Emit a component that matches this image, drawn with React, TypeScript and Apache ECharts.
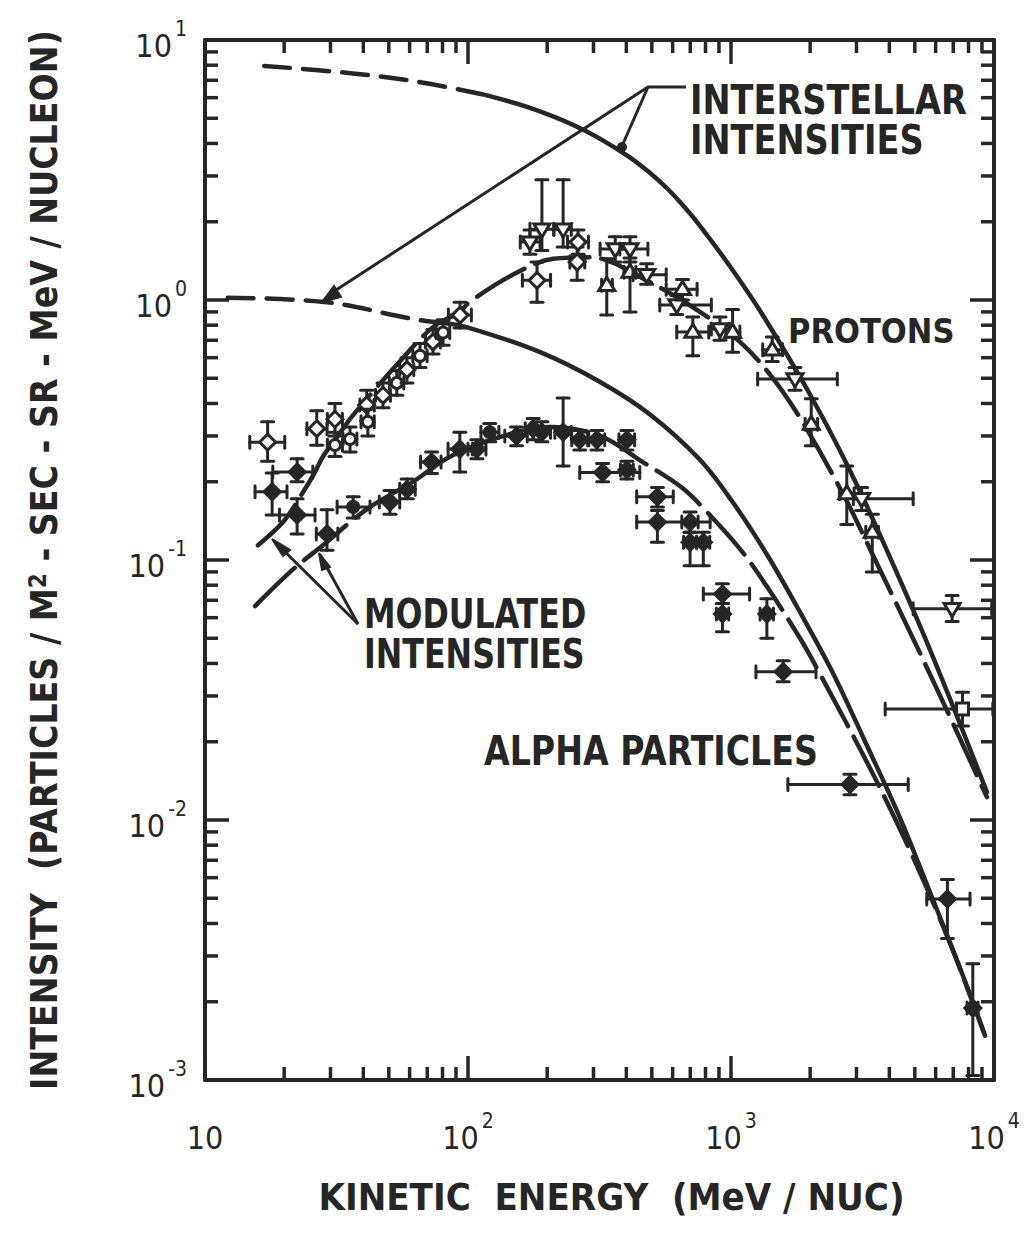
import React, { useEffect, useRef } from 'react';
import * as echarts from 'echarts';

const INK = '#262626';
const FONT = '"DejaVu Sans Condensed", "DejaVu Sans", sans-serif';

// axis ticks
const X_MINOR = [20, 30, 40, 50, 60, 70, 80, 90, 200, 300, 400, 500, 600, 700, 800, 900, 2000, 3000, 4000, 5000, 6000, 7000, 8000, 9000];
const Y_MINOR = [0.002, 0.003, 0.004, 0.005, 0.006, 0.007, 0.008, 0.009, 0.02, 0.03, 0.04, 0.05, 0.06, 0.07, 0.08, 0.09, 0.2, 0.3, 0.4, 0.5, 0.6, 0.7, 0.8, 0.9, 2, 3, 4, 5, 6, 7, 8, 9];

// interstellar proton spectrum [E MeV/nuc, intensity]
const IS_PROTON_DASHED: [number, number][] = [[16.8, 7.95], [35, 7.47], [64, 6.92], [117, 6.14]];
const IS_PROTON_SOLID: [number, number][] = [[117, 6.14], [180, 5.4], [278, 4.49], [402, 3.6], [500, 3.04], [571, 2.69], [650, 2.34], [762, 1.93], [1000, 1.33], [1325, 0.87], [2000, 0.432], [3000, 0.196], [5000, 0.062], [7000, 0.0272], [9400, 0.0128]];

// interstellar alpha spectrum
const IS_ALPHA_DASHED: [number, number][] = [[12.2, 1.02], [29.1, 0.98], [61.8, 0.845], [78, 0.82]];
const IS_ALPHA_SOLID: [number, number][] = [[78, 0.82], [98.6, 0.787], [188, 0.63], [318, 0.484], [492, 0.363], [762, 0.243], [1019, 0.166], [1370, 0.105], [1830, 0.063], [2443, 0.0367], [3290, 0.0193], [4390, 0.0102], [5720, 0.00525], [7430, 0.00269], [9250, 0.00148]];

// modulated spectra
const MOD_PROTON: [number, number][] = [[15.9, 0.114], [19.8, 0.14], [23, 0.175], [26, 0.215], [28.1, 0.25], [32, 0.3], [36.5, 0.36], [55, 0.58], [74, 0.79], [93, 0.9], [101, 0.98], [148, 1.25], [211, 1.44], [291, 1.46], [492, 1.17], [762, 0.9], [1081, 0.69], [1405, 0.518], [1830, 0.352], [2670, 0.179], [3470, 0.104], [5000, 0.0483], [6620, 0.0264], [9400, 0.01225]];
const MOD_ALPHA: [number, number][] = [[15.5, 0.0665], [21.6, 0.092], [28.1, 0.114], [41.3, 0.157], [61.8, 0.2], [85, 0.249], [132, 0.297], [205, 0.325], [318, 0.3], [462, 0.238], [650, 0.19], [810, 0.153], [1100, 0.108], [1370, 0.079], [1830, 0.05], [2120, 0.0384], [3470, 0.015], [4920, 0.0072], [6800, 0.00336], [9250, 0.00148]];

// measured points: [E, I, Elow, Ehigh, Ilow, Ihigh, symbol]
type Pt = [number, number, number, number, number, number, string];
const PROTON_POINTS: Pt[] = [
  [17.3, 0.284, 14.8, 20.1, 0.24, 0.34, 'd'],
  [26.6, 0.32, 24.4, 29.1, 0.276, 0.375, 'd'],
  [31.2, 0.348, 29.2, 33.3, 0.3, 0.4, 'd'],
  [31.2, 0.277, 29.2, 33.3, 0.25, 0.31, 'o'],
  [35.6, 0.292, 33.5, 37.8, 0.26, 0.325, 'o'],
  [41.2, 0.395, 38.8, 44.0, 0.345, 0.45, 'd'],
  [41.6, 0.34, 39.2, 44.0, 0.3, 0.38, 'o'],
  [47.5, 0.43, 44.5, 50.7, 0.385, 0.48, 'd'],
  [53.6, 0.48, 50.2, 57.0, 0.43, 0.535, 'o'],
  [58.6, 0.54, 55.0, 62.2, 0.48, 0.6, 'd'],
  [65.7, 0.61, 61.7, 69.9, 0.55, 0.68, 'o'],
  [73.6, 0.69, 68.9, 78.5, 0.62, 0.77, 'd'],
  [80.4, 0.75, 75.6, 85.2, 0.67, 0.84, 'o'],
  [93.3, 0.875, 84.2, 103, 0.78, 0.98, 'd'],
  [172, 1.67, 158, 188, 1.5, 1.86, 'v'],
  [183, 1.19, 161, 206, 0.98, 1.4, 'd'],
  [191, 1.87, 172, 212, 1.55, 2.9, 'v'],
  [230, 1.87, 212, 247, 1.6, 2.9, 'v'],
  [260, 1.4, 244, 278, 1.19, 1.6, 'd'],
  [262, 1.67, 239, 287, 1.5, 1.86, 'd'],
  [337, 1.14, 322, 354, 0.875, 1.44, 't'],
  [363, 1.57, 318, 412, 1.4, 1.75, 'v'],
  [413, 1.57, 378, 483, 1.4, 1.75, 'v'],
  [413, 1.28, 392, 435, 0.9, 1.45, 't'],
  [478, 1.25, 424, 567, 1.15, 1.38, 'v'],
  [622, 0.957, 536, 842, 0.88, 1.04, 'v'],
  [654, 1.1, 567, 743, 1.0, 1.2, 't'],
  [716, 0.753, 622, 823, 0.61, 0.86, 't'],
  [908, 0.773, 842, 986, 0.7, 0.86, 'v'],
  [1014, 0.753, 957, 1081, 0.63, 0.92, 't'],
  [1435, 0.643, 1320, 1570, 0.58, 0.72, 't'],
  [1751, 0.497, 1263, 2536, 0.45, 0.55, 'v'],
  [2019, 0.333, 1914, 2134, 0.275, 0.417, 't'],
  [2756, 0.18, 2584, 2938, 0.137, 0.23, 't'],
  [3139, 0.172, 2919, 4928, 0.155, 0.19, 'v'],
  [3445, 0.128, 3254, 3637, 0.09, 0.15, 't'],
  [6929, 0.065, 4928, 9800, 0.058, 0.073, 'v'],
  [7589, 0.0267, 3857, 9900, 0.023, 0.031, 's'],
];
const ALPHA_POINTS: Pt[] = [
  [18.0, 0.183, 15.5, 20.5, 0.149, 0.216, 'd'],
  [22.4, 0.218, 18.1, 25.7, 0.2, 0.245, 'd'],
  [22.4, 0.149, 19.2, 26.2, 0.126, 0.172, 'd'],
  [29.1, 0.126, 26.5, 32.0, 0.109, 0.156, 'd'],
  [36.6, 0.16, 31.8, 42.4, 0.145, 0.175, 'o'],
  [50.5, 0.167, 46, 55, 0.15, 0.185, 'd'],
  [58.7, 0.187, 55, 63, 0.172, 0.205, 'd'],
  [72.7, 0.238, 66, 79, 0.215, 0.26, 'd'],
  [93.1, 0.267, 84, 104, 0.218, 0.31, 'd'],
  [108, 0.267, 100, 117, 0.245, 0.29, 'd'],
  [121, 0.31, 112, 131, 0.285, 0.335, 'o'],
  [153, 0.3, 138, 168, 0.275, 0.325, 'd'],
  [177, 0.32, 165, 190, 0.29, 0.35, 'd'],
  [191, 0.31, 177, 206, 0.285, 0.34, 'd'],
  [230, 0.31, 214, 247, 0.23, 0.42, 'd'],
  [266, 0.29, 248, 285, 0.265, 0.315, 'd'],
  [309, 0.29, 288, 331, 0.265, 0.315, 'd'],
  [402, 0.29, 375, 430, 0.265, 0.315, 'd'],
  [325, 0.217, 266, 450, 0.2, 0.235, 'd'],
  [402, 0.222, 380, 425, 0.205, 0.24, 'd'],
  [525, 0.175, 438, 603, 0.16, 0.19, 'd'],
  [525, 0.14, 438, 833, 0.117, 0.155, 'd'],
  [699, 0.14, 650, 750, 0.128, 0.153, 'd'],
  [699, 0.117, 660, 740, 0.095, 0.128, 'd'],
  [785, 0.117, 740, 830, 0.095, 0.128, 'd'],
  [928, 0.074, 785, 1177, 0.068, 0.081, 'd'],
  [928, 0.062, 880, 980, 0.053, 0.068, 'd'],
  [1369, 0.062, 1290, 1450, 0.05, 0.071, 'd'],
  [1579, 0.0372, 1244, 2105, 0.034, 0.041, 'd'],
  [2833, 0.0137, 1646, 4718, 0.0125, 0.015, 'd'],
  [6651, 0.00497, 5551, 8106, 0.0035, 0.0059, 'd'],
  [8307, 0.00189, 7900, 8700, 0.00104, 0.0028, 'd'],
];

function expLabel(v: number, plainTen: boolean) {
  const e = Math.round(Math.log10(v));
  if (plainTen && e === 1) return '{b|10}';
  return `{b|10}{s|${e}}`;
}

const labelRich = {
  b: { fontSize: 32, fontFamily: FONT, color: INK, lineHeight: 44, verticalAlign: 'bottom' },
  s: { fontSize: 21, fontFamily: FONT, color: INK, lineHeight: 16, verticalAlign: 'top', padding: [0, 0, 0, 3] },
};

function pointSeries(points: Pt[], filled: boolean) {
  return {
    type: 'custom',
    coordinateSystem: 'cartesian2d',
    clip: false,
    z: 5,
    data: points.map((p) => [p[0], p[1]]),
    renderItem: (params: any, api: any) => {
      const p = points[params.dataIndex];
      const c = api.coord([p[0], p[1]]);
      const xl = api.coord([p[2], p[1]])[0];
      const xh = api.coord([p[3], p[1]])[0];
      const yl = api.coord([p[0], p[4]])[1];
      const yh = api.coord([p[0], p[5]])[1];
      const cap = 6;
      const ls = { stroke: INK, lineWidth: 3, lineCap: 'round' };
      const x = c[0];
      const y = c[1];
      const children: any[] = [
        { type: 'line', shape: { x1: xl, y1: y, x2: xh, y2: y }, style: ls },
        { type: 'line', shape: { x1: x, y1: yl, x2: x, y2: yh }, style: ls },
        { type: 'line', shape: { x1: xl, y1: y - cap, x2: xl, y2: y + cap }, style: ls },
        { type: 'line', shape: { x1: xh, y1: y - cap, x2: xh, y2: y + cap }, style: ls },
        { type: 'line', shape: { x1: x - cap, y1: yl, x2: x + cap, y2: yl }, style: ls },
        { type: 'line', shape: { x1: x - cap, y1: yh, x2: x + cap, y2: yh }, style: ls },
      ];
      const ms = { fill: filled ? INK : '#ffffff', stroke: INK, lineWidth: 3 };
      const r = 8;
      const k = p[6];
      if (k === 'd') children.push({ type: 'polygon', shape: { points: [[x, y - r], [x + r, y], [x, y + r], [x - r, y]] }, style: ms });
      else if (k === 'o') children.push({ type: 'circle', shape: { cx: x, cy: y, r: 5.5 }, style: ms });
      else if (k === 't') children.push({ type: 'polygon', shape: { points: [[x, y - r], [x + r, y + r * 0.65], [x - r, y + r * 0.65]] }, style: ms });
      else if (k === 'v') children.push({ type: 'polygon', shape: { points: [[x, y + r], [x + r, y - r * 0.65], [x - r, y - r * 0.65]] }, style: ms });
      else children.push({ type: 'rect', shape: { x: x - 6, y: y - 6, width: 12, height: 12 }, style: ms });
      return { type: 'group', children };
    },
  };
}

function tickSeries(values: number[], isX: boolean) {
  return {
    type: 'custom',
    coordinateSystem: 'cartesian2d',
    clip: false,
    silent: true,
    z: 3,
    data: values.map((v) => (isX ? [v, 1] : [100, v])),
    renderItem: (params: any, api: any) => {
      const cs = params.coordSys;
      const len = 13;
      const st = { stroke: INK, lineWidth: 3.5 };
      if (isX) {
        const x = api.coord([values[params.dataIndex], 1])[0];
        const b = cs.y + cs.height;
        return {
          type: 'group',
          children: [
            { type: 'line', shape: { x1: x, y1: b, x2: x, y2: b - len }, style: st },
            { type: 'line', shape: { x1: x, y1: cs.y, x2: x, y2: cs.y + len }, style: st },
          ],
        };
      }
      const y = api.coord([100, values[params.dataIndex]])[1];
      const r = cs.x + cs.width;
      return {
        type: 'group',
        children: [
          { type: 'line', shape: { x1: cs.x, y1: y, x2: cs.x + len, y2: y }, style: st },
          { type: 'line', shape: { x1: r, y1: y, x2: r - len, y2: y }, style: st },
        ],
      };
    },
  };
}

function curve(data: [number, number][], dash: any, width = 4.5) {
  return {
    type: 'line',
    data,
    smooth: 0.35,
    showSymbol: false,
    silent: true,
    z: 4,
    lineStyle: { color: INK, width, type: dash, cap: 'round' },
  };
}

const axisCommon = {
  type: 'log',
  logBase: 10,
  axisLine: { show: true, onZero: false, lineStyle: { color: INK, width: 4 } },
  axisTick: { show: true, inside: true, length: 24, lineStyle: { color: INK, width: 3.5 } },
  splitLine: { show: false },
  minorTick: { show: false },
};

function label(text: string, x: number, y: number, size: number, sx: number) {
  return {
    type: 'text',
    x,
    y,
    scaleX: sx,
    style: { text, x: 0, y: 0, verticalAlign: 'middle', font: `bold ${size}px ${FONT}`, fill: INK, lineHeight: 40 },
  };
}

export default function App() {
  const ref = useRef<HTMLDivElement>(null);
  useEffect(() => {
    if (!ref.current) return;
    const chart = echarts.init(ref.current, undefined, { renderer: 'svg' });
    const option: any = {
      animation: false,
      backgroundColor: '#ffffff',
      grid: { left: 205, right: 35, top: 40, bottom: 157 },
      xAxis: [
        {
          ...axisCommon,
          min: 10,
          max: 10000,
          position: 'bottom',
          axisLabel: { margin: 30, formatter: (v: number) => expLabel(v, true), rich: labelRich },
          name: 'KINETIC  ENERGY  (MeV / NUC)',
          nameLocation: 'middle',
          nameGap: 98,
          nameTextStyle: { fontFamily: FONT, fontWeight: 'bold', fontSize: 38, color: INK, padding: [0, 0, 0, 24] },
        },
        { ...axisCommon, min: 10, max: 10000, position: 'top', axisLabel: { show: false } },
      ],
      yAxis: [
        {
          ...axisCommon,
          min: 0.001,
          max: 10,
          position: 'left',
          axisLabel: { margin: 18, formatter: (v: number) => expLabel(v, false), rich: labelRich },
          name: 'INTENSITY  (PARTICLES / M{sup|2} - SEC - SR - MeV / NUCLEON)',
          nameLocation: 'middle',
          nameRotate: 90,
          nameGap: 142,
          nameTextStyle: {
            fontFamily: FONT,
            fontWeight: 'bold',
            fontSize: 37,
            color: INK,
            rich: { sup: { fontFamily: FONT, fontWeight: 'bold', fontSize: 24, color: INK, verticalAlign: 'top', lineHeight: 18 } },
          },
        },
        { ...axisCommon, min: 0.001, max: 10, position: 'right', axisLabel: { show: false } },
      ],
      series: [
        tickSeries(X_MINOR, true),
        tickSeries(Y_MINOR, false),
        curve(IS_PROTON_DASHED, [26, 13]),
        curve(IS_PROTON_SOLID, 'solid'),
        curve(IS_ALPHA_DASHED, [26, 13]),
        curve(IS_ALPHA_SOLID, 'solid'),
        curve(MOD_PROTON, [55, 12]),
        curve(MOD_ALPHA, [55, 12]),
        pointSeries(PROTON_POINTS, false),
        pointSeries(ALPHA_POINTS, true),
      ],
      graphic: [
        label('INTERSTELLAR\nINTENSITIES', 690, 120, 41, 0.91),
        label('PROTONS', 788, 331, 34, 1),
        label('MODULATED\nINTENSITIES', 364, 634, 41, 0.86),
        label('ALPHA PARTICLES', 484, 751, 41, 0.9),
        { type: 'polyline', shape: { points: [[686, 87], [648, 87], [330, 294]] }, style: { stroke: INK, lineWidth: 3, fill: 'none' } },
        { type: 'line', shape: { x1: 648, y1: 87, x2: 622, y2: 146 }, style: { stroke: INK, lineWidth: 3 } },
        { type: 'polygon', shape: { points: [[322, 302], [334, 286], [341, 297]] }, style: { fill: INK, stroke: INK, lineWidth: 2 } },
        { type: 'circle', shape: { cx: 622, cy: 147, r: 5 }, style: { fill: INK } },
        { type: 'line', shape: { x1: 358, y1: 624, x2: 274, y2: 541 }, style: { stroke: INK, lineWidth: 3 } },
        { type: 'line', shape: { x1: 358, y1: 624, x2: 320, y2: 555 }, style: { stroke: INK, lineWidth: 3 } },
        { type: 'polygon', shape: { points: [[272, 539], [290, 550], [283, 556]] }, style: { fill: INK, stroke: INK, lineWidth: 2 } },
        { type: 'polygon', shape: { points: [[319, 553], [330, 567], [322, 570]] }, style: { fill: INK, stroke: INK, lineWidth: 2 } },
      ],
    };
    chart.setOption(option);
    return () => chart.dispose();
  }, []);
  return <div ref={ref} style={{ position: 'fixed', left: 0, top: 0, width: 1029, height: 1237, background: '#fff' }} />;
}
